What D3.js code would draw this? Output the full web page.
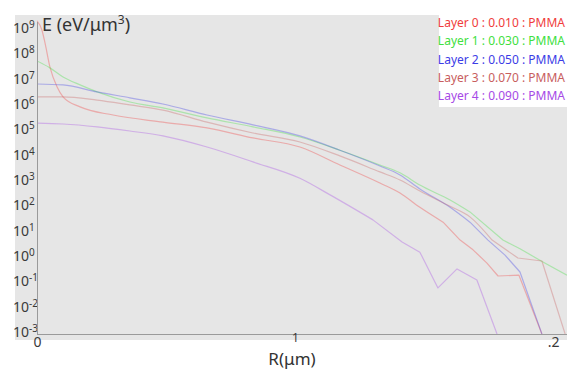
<!DOCTYPE html>
<html>
<head>
<meta charset="utf-8">
<script src="https://cdn.jsdelivr.net/npm/d3@7"></script>
<style>
  body { margin: 0; background: #fff; }
  svg { display: block; font-family: "Noto Sans", "Open Sans", sans-serif; }
</style>
</head>
<body>
<div id="chart"></div>
<script>
// 圖層名稱與顏色
var layerNames = [
  "Layer 0 : 0.010 : PMMA",
  "Layer 1 : 0.030 : PMMA",
  "Layer 2 : 0.050 : PMMA",
  "Layer 3 : 0.070 : PMMA",
  "Layer 4 : 0.090 : PMMA"
];
var layerColors = ["#f03c3c", "#40e040", "#3c3ce6", "#c85e5e", "#a64ae6"];

// 各圖層資料 [R (µm), E (eV/µm³)]
var layer0 = [[0, 2.3e9], [0.019, 1e9], [0.031, 3.1e8], [0.05, 3.5e7], [0.078, 5.6e6], [0.101, 2.3e6],
  [0.167, 9.2e5], [0.295, 4.4e5], [0.488, 2.3e5], [0.659, 1.36e5], [0.837, 5.5e4], [1.019, 2.4e4],
  [1.174, 4.7e3], [1.329, 910], [1.407, 370], [1.484, 100], [1.574, 26], [1.64, 5.1], [1.69, 2.1],
  [1.744, 0.63], [1.787, 0.195], [1.868, 0.21], [1.957, 1e-3]];
var layer1 = [[0, 6.0e7], [0.05, 3.2e7], [0.101, 1.4e7], [0.167, 6.8e6], [0.233, 3.6e6], [0.36, 1.44e6],
  [0.488, 8.4e5], [0.659, 3.4e5], [0.837, 1.5e5], [1.019, 6.0e4], [1.174, 1.8e4], [1.329, 4.7e3],
  [1.407, 2.3e3], [1.484, 760], [1.601, 195], [1.678, 66], [1.806, 5.1], [1.872, 2.3], [1.961, 0.7],
  [2.054, 0.21]];
var layer2 = [[0, 7.4e6], [0.101, 6.8e6], [0.233, 3.6e6], [0.36, 2.1e6], [0.488, 1.2e6], [0.659, 4.4e5],
  [0.837, 1.8e5], [1.019, 6.6e4], [1.174, 1.8e4], [1.329, 4.3e3], [1.407, 1.9e3], [1.484, 530],
  [1.601, 100], [1.678, 26], [1.748, 5.1], [1.814, 1.3], [1.872, 0.28], [1.957, 1e-3]];
var layer3 = [[0, 2.3e6], [0.101, 2.3e6], [0.233, 1.7e6], [0.36, 1.1e6], [0.488, 6.9e5], [0.659, 2.3e5],
  [0.837, 8.6e4], [1.019, 3.8e4], [1.174, 1.07e4], [1.329, 2.5e3], [1.407, 1.2e3], [1.484, 440],
  [1.601, 110], [1.678, 42], [1.764, 5.1], [1.864, 1.0], [1.957, 0.76], [2.047, 1e-3]];
var layer4 = [[0, 2.1e5], [0.101, 1.95e5], [0.233, 1.5e5], [0.36, 1.03e5], [0.488, 6.6e4], [0.659, 2.4e4],
  [0.837, 6.2e3], [1.019, 1.4e3], [1.136, 310], [1.302, 32], [1.415, 4.3], [1.484, 1.7],
  [1.554, 0.066], [1.628, 0.37], [1.705, 0.135], [1.783, 1e-3]];
var layers = [layer0, layer1, layer2, layer3, layer4];
// 從這個 R 起改用折線 (尾端為直線段)
var tailStart = [1.574, 1.678, 1.678, 1.764, 1.302];

// 座標軸刻度
var yTickExps = [-3, -2, -1, 0, 1, 2, 3, 4, 5, 6, 7, 8, 9];
var xTickValues = [0, 1, 2];
var xTickLabels = ["0", "1", ".2"];

var width = 567;
var height = 373;

var svg = d3.select("#chart").append("svg")
  .attr("width", width)
  .attr("height", height);

// 比例尺
var x = d3.scaleLinear().domain([0, 1]).range([37, 295]);
var y = d3.scaleLog().domain([1e-3, 1e9]).range([334, 30]);

// 灰色背景
svg.append("rect")
  .attr("x", 15).attr("y", 15)
  .attr("width", width - 15).attr("height", 325)
  .attr("fill", "#e6e6e6");

// 裁切區域
svg.append("defs").append("clipPath")
  .attr("id", "plot-clip")
  .append("rect")
  .attr("x", 37).attr("y", 15)
  .attr("width", width - 37).attr("height", y(1e-3) - 15);

// 平滑段 + 折線段
var smoothLine = d3.line()
  .x(d => x(d[0]))
  .y(d => y(d[1]))
  .curve(d3.curveMonotoneX);
var straightLine = d3.line()
  .x(d => x(d[0]))
  .y(d => y(d[1]));

var lineGroup = svg.append("g")
  .attr("clip-path", "url(#plot-clip)");

layers.forEach(function (data, i) {
  var head = data.filter(d => d[0] <= tailStart[i]);
  var tail = data.filter(d => d[0] >= tailStart[i]);
  lineGroup.append("path")
    .attr("d", smoothLine(head) + straightLine(tail).replace(/^M/, "L"))
    .attr("fill", "none")
    .attr("stroke", layerColors[i])
    .attr("stroke-opacity", 0.35)
    .attr("stroke-width", 1.2)
    .attr("stroke-linejoin", "round");
});

// Y 軸
var yAxis = svg.append("g")
  .attr("transform", "translate(37,0)")
  .call(d3.axisLeft(y).tickValues(yTickExps.map(e => Math.pow(10, e))).tickSize(0).tickFormat(""));
yAxis.select(".domain").remove();
yAxis.selectAll(".tick text").remove();
yAxis.selectAll(".tick").each(function (d) {
  var t = d3.select(this).append("text")
    .attr("x", -24)
    .attr("y", 2.5)
    .attr("text-anchor", "start")
    .attr("fill", "#3a3a3a")
    .style("font-size", "14px")
    .style("font-family", "'Noto Sans', sans-serif");
  t.append("tspan").text("10");
  t.append("tspan")
    .attr("dy", -5)
    .style("font-size", "10px")
    .text(String(Math.round(Math.log10(d))));
});

// 軸線
svg.append("line")
  .attr("x1", 37.5).attr("x2", 37.5)
  .attr("y1", 22).attr("y2", y(1e-3))
  .attr("stroke", "#9a9a9a");
svg.append("line")
  .attr("x1", 37).attr("x2", width)
  .attr("y1", y(1e-3) + 0.5).attr("y2", y(1e-3) + 0.5)
  .attr("stroke", "#9a9a9a");

// X 軸刻度
var xAxis = svg.append("g")
  .attr("transform", "translate(0," + y(1e-3) + ")")
  .call(d3.axisBottom(x).tickValues(xTickValues).tickSize(0).tickFormat((d, i) => xTickLabels[i]));
xAxis.select(".domain").remove();
xAxis.selectAll(".tick text")
  .attr("y", (d, i) => i === 1 ? 8 : 13)
  .attr("dy", 0)
  .attr("fill", "#3a3a3a")
  .style("font-size", (d, i) => i === 1 ? "12px" : "14px")
  .style("font-family", "'Noto Sans', sans-serif");

// 標題
var yTitle = svg.append("text")
  .attr("x", 42)
  .attr("y", 31)
  .attr("fill", "#333")
  .style("font-size", "18px");
yTitle.append("tspan").text("E (eV/μm");
yTitle.append("tspan").attr("dy", -7).style("font-size", "12px").text("3");
yTitle.append("tspan").attr("dy", 7).text(")");

svg.append("text")
  .attr("x", 292)
  .attr("y", 365)
  .attr("text-anchor", "middle")
  .attr("fill", "#333")
  .style("font-size", "17px")
  .text("R(μm)");

// 圖例
svg.append("rect")
  .attr("x", 439).attr("y", 15)
  .attr("width", width - 439).attr("height", 92)
  .attr("fill", "#fff");

svg.selectAll(".legend")
  .data(layerNames)
  .enter().append("text")
  .attr("class", "legend")
  .attr("x", 565)
  .attr("y", (d, i) => 27 + i * 18.3)
  .attr("text-anchor", "end")
  .attr("fill", (d, i) => layerColors[i])
  .style("font-size", "12px")
  .text(d => d);
</script>
</body>
</html>
